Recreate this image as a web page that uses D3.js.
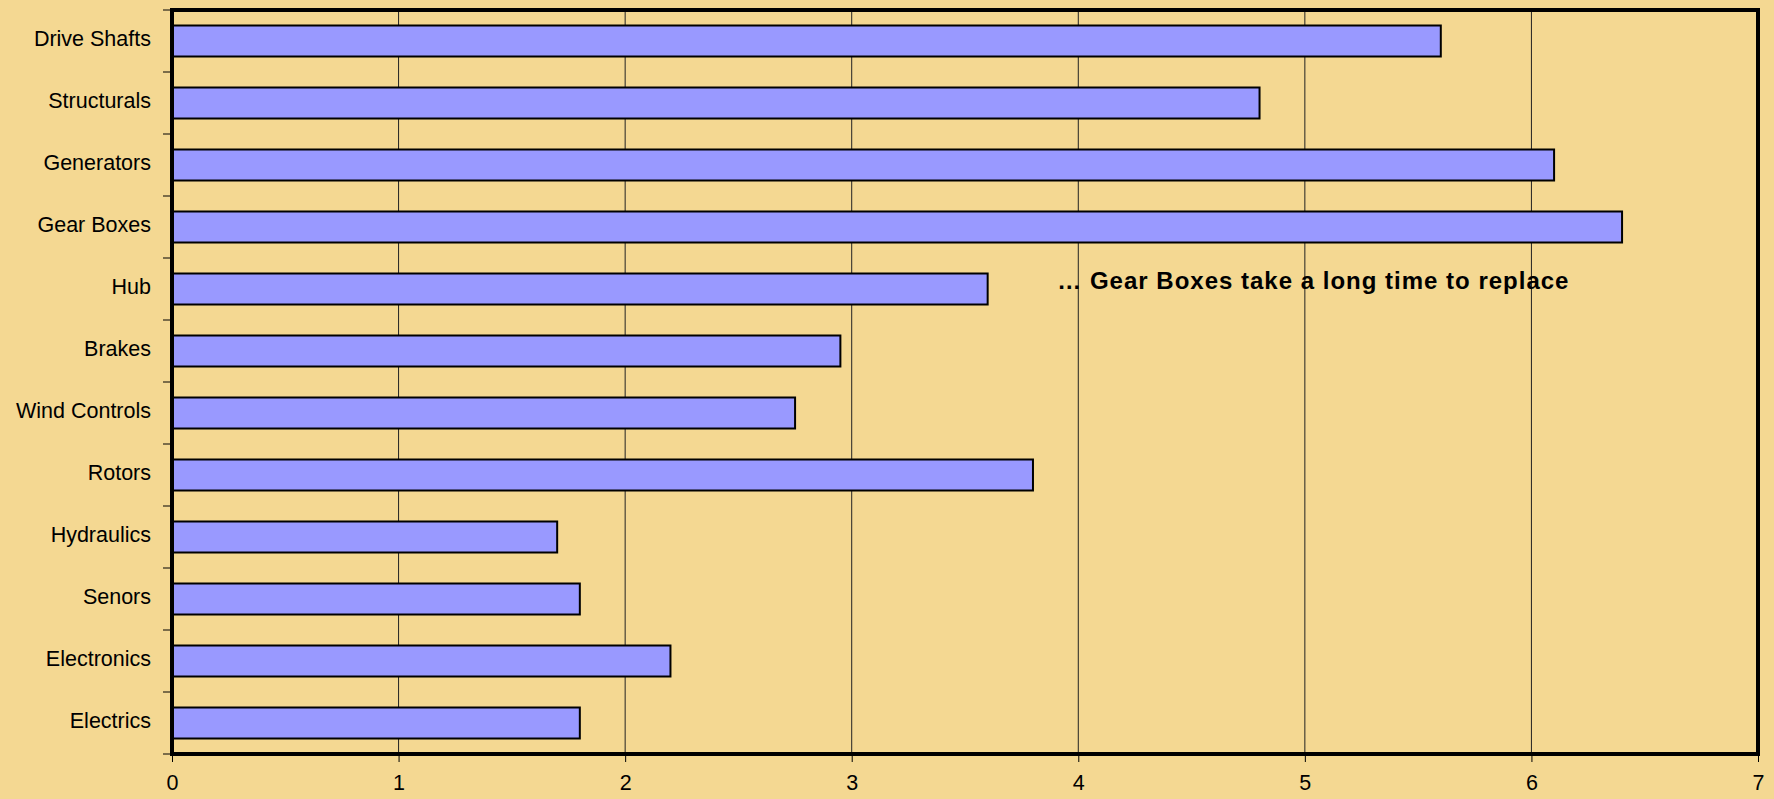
<!DOCTYPE html>
<html>
<head>
<meta charset="utf-8">
<script src="https://cdn.jsdelivr.net/npm/d3@7"></script>
<style>
  body { margin: 0; background: #F4D892; }
  svg { display: block; }
  text { font-family: "Liberation Sans", Arial, sans-serif; fill: #000; }
</style>
</head>
<body>
<script>
'use strict';

const categories = ["Drive Shafts", "Structurals", "Generators", "Gear Boxes", "Hub", "Brakes",
  "Wind Controls", "Rotors", "Hydraulics", "Senors", "Electronics", "Electrics"];
const values = [5.6, 4.8, 6.1, 6.4, 3.6, 2.95, 2.75, 3.8, 1.7, 1.8, 2.2, 1.8];
const xTicks = [0, 1, 2, 3, 4, 5, 6, 7];
const note = "… Gear Boxes take a long time to replace";

const width = 1774, height = 799;
const plotLeft = 172, plotRight = 1758, plotTop = 10, plotBottom = 754;

const svg = d3.select("body").append("svg")
  .attr("width", width)
  .attr("height", height);

svg.append("rect")
  .attr("width", width)
  .attr("height", height)
  .attr("fill", "#F4D892");

const x = d3.scaleLinear().domain([0, 7]).range([plotLeft, plotRight]);
const y = d3.scaleBand().domain(categories).range([plotTop, plotBottom])
  .paddingInner(0.5).paddingOuter(0.25);

// grid lines
svg.append("g")
  .selectAll("line")
  .data(xTicks.slice(1, -1))
  .join("line")
  .attr("x1", d => x(d)).attr("x2", d => x(d))
  .attr("y1", plotTop).attr("y2", plotBottom)
  .attr("stroke", "#222")
  .attr("stroke-width", 1);

// bars
svg.append("g")
  .selectAll("rect")
  .data(categories)
  .join("rect")
  .attr("x", x(0))
  .attr("y", d => y(d))
  .attr("width", (d, i) => x(values[i]) - x(0))
  .attr("height", y.bandwidth())
  .attr("fill", "#9999FF")
  .attr("stroke", "#000")
  .attr("stroke-width", 2);

// y axis ticks between categories
const step = y.step();
const yTickPos = d3.range(categories.length + 1).map(i => plotTop + i * step);
svg.append("g")
  .selectAll("line")
  .data(yTickPos)
  .join("line")
  .attr("x1", plotLeft - 9).attr("x2", plotLeft)
  .attr("y1", d => d).attr("y2", d => d)
  .attr("stroke", "#000")
  .attr("stroke-width", 1);

svg.append("g")
  .selectAll("text")
  .data(categories)
  .join("text")
  .attr("x", plotLeft - 21)
  .attr("y", d => y(d) + y.bandwidth() / 2 - 3)
  .attr("dy", "0.35em")
  .attr("text-anchor", "end")
  .style("font-size", "21.5px")
  .text(d => d);

// x axis
const xAxis = svg.append("g")
  .attr("transform", `translate(0,${plotBottom})`)
  .call(d3.axisBottom(x).tickValues(xTicks).tickSize(8).tickPadding(13).tickFormat(d3.format("d")));
xAxis.select(".domain").remove();
xAxis.selectAll("line").attr("stroke", "#000");
xAxis.selectAll("text")
  .style("font-size", "21.5px")
  .style("font-family", "Liberation Sans, Arial, sans-serif");

// plot frame
svg.append("rect")
  .attr("x", plotLeft)
  .attr("y", plotTop)
  .attr("width", plotRight - plotLeft)
  .attr("height", plotBottom - plotTop)
  .attr("fill", "none")
  .attr("stroke", "#000")
  .attr("stroke-width", 4);

// annotation
svg.append("text")
  .attr("x", x(4) - 21)
  .attr("y", y("Hub") + y.bandwidth() / 2)
  .style("font-size", "24px")
  .style("font-weight", "bold")
  .style("letter-spacing", "1px")
  .text(note);
</script>
</body>
</html>
